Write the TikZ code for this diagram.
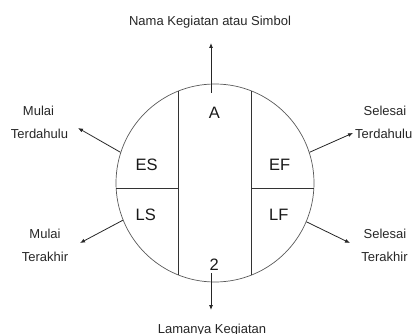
\documentclass[tikz,border=0pt]{standalone}
\usepackage{fontspec}
\setmainfont{Liberation Sans}
\usetikzlibrary{arrows.meta}
\begin{document}
\begin{tikzpicture}[x=1pt,y=-1pt,
  lbl/.style={font=\fontsize{13}{15}\selectfont, text=black!85, inner sep=0pt, anchor=base},
  big/.style={font=\fontsize{16.5}{19}\selectfont, text=black!90, inner sep=0pt, anchor=base},
  part/.style={draw=black!80, line width=0.7pt},
  arr/.style={draw=black!85, line width=0.8pt, -{Latex[length=5pt,width=4pt]}}]
\useasboundingbox (0,0) rectangle (412,334);
% circle
\node[circle, draw=black!65, line width=0.7pt, minimum size=198pt, inner sep=0pt] (c) at (215,183) {};
% inner partition lines
\coordinate (v1t) at (178.5,91);
\coordinate (v1b) at (178.5,275);
\coordinate (v2t) at (251.5,91);
\coordinate (v2b) at (251.5,275);
\coordinate (hl) at (116.1,188);
\coordinate (hr) at (313.9,188);
\coordinate (hlm) at (178.5,188);
\coordinate (hrm) at (251.5,188);
\draw[part] (v1t) -- (v1b);
\draw[part] (v2t) -- (v2b);
\draw[part] (hl) -- (hlm);
\draw[part] (hrm) -- (hr);
% cell texts
\node[big] (A) at (214.3,119) {A};
\node[big] (two) at (214.3,270.7) {2};
\node[big, anchor=base west] (ES) at (135.5,170) {ES};
\node[big, anchor=base west] (EF) at (269,170) {EF};
\node[big, anchor=base west] (LS) at (135.5,220) {LS};
\node[big, anchor=base west] (LF) at (269,220) {LF};
% outer labels
\node[lbl] (nama) at (210,26) {Nama Kegiatan atau Simbol};
\node[lbl] (lama) at (212,333) {Lamanya Kegiatan};
\node[lbl] (ml1) at (38.5,116) {Mulai};
\node[lbl] (ml2) at (39.5,139) {Terdahulu};
\node[lbl] (sl1) at (385,116) {Selesai};
\node[lbl, anchor=base west] (sl2) at (355,139) {Terdahulu};
\node[lbl] (ml3) at (45,238) {Mulai};
\node[lbl] (ml4) at (45,261.5) {Terakhir};
\node[lbl] (sl3) at (385,238) {Selesai};
\node[lbl] (sl4) at (384.5,261.5) {Terakhir};
% arrows
\coordinate (upS) at (211,93);
\coordinate (upT) at (211,43);
\coordinate (dnS) at (211,273);
\coordinate (dnT) at (211,310);
\coordinate (ulT) at (78,128);
\coordinate (urT) at (353,133);
\coordinate (llT) at (80,243);
\coordinate (lrT) at (350,243);
\draw[arr] (upS) -- (upT);
\draw[arr] (dnS) -- (dnT);
\draw[arr] (c.162) -- (ulT);
\draw[arr] (c.18) -- (urT);
\draw[arr] (c.202.5) -- (llT);
\draw[arr] (c.-23) -- (lrT);
\end{tikzpicture}
\end{document}
